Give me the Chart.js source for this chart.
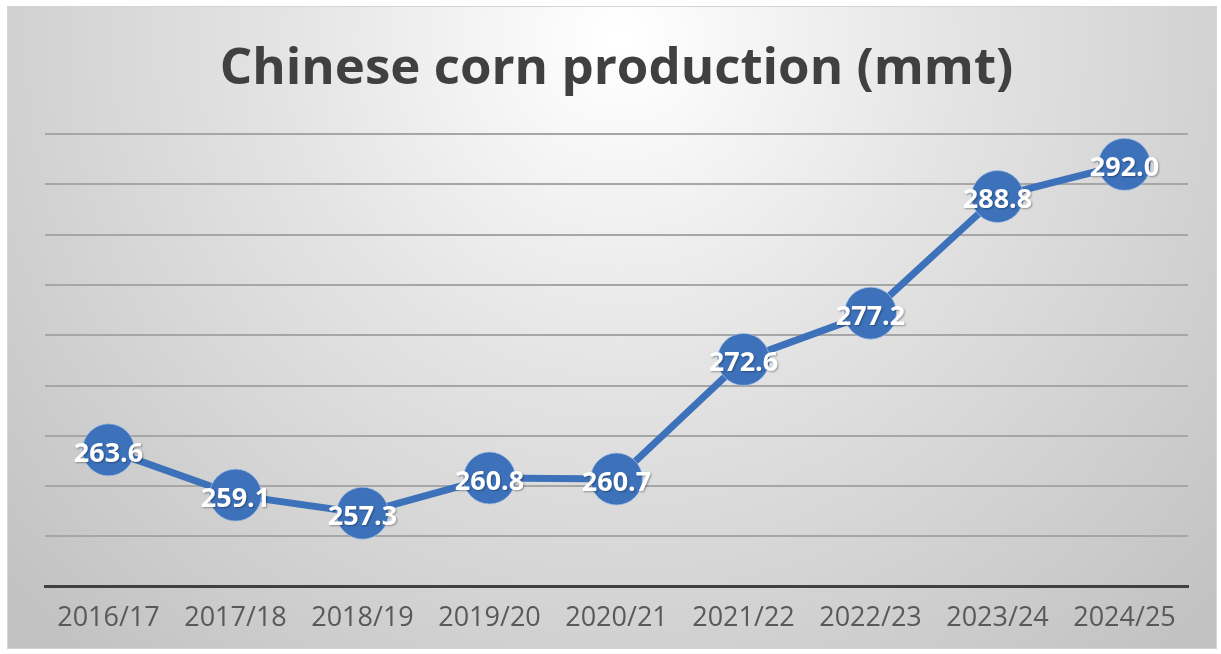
<!DOCTYPE html>
<html>
<head>
<meta charset="utf-8">
<script src="https://cdn.jsdelivr.net/npm/chart.js@4/dist/chart.umd.min.js"></script>
<style>
  html, body { margin: 0; padding: 0; background: #fff; }
  #wrap { width: 1221px; height: 654px; position: relative; }
</style>
</head>
<body>
<div id="wrap"><canvas id="cornChart"></canvas></div>
<script>
var seasons = ["2016/17", "2017/18", "2018/19", "2019/20", "2020/21", "2021/22", "2022/23", "2023/24", "2024/25"];
var production = [263.6, 259.1, 257.3, 260.8, 260.7, 272.6, 277.2, 288.8, 292.0];
var yMin = 250;
var yMax = 295;
var yStep = 5;

var blue = "#3d72bb";

// grey framed panel with a soft light spot behind the title
var panelBackground = {
  id: "panelBackground",
  beforeDraw: function (chart) {
    var ctx = chart.ctx;
    var w = chart.width, h = chart.height;
    ctx.save();
    ctx.fillStyle = "#ffffff";
    ctx.fillRect(0, 0, w, h);
    var g = ctx.createRadialGradient(620, 40, 10, 620, 40, 820);
    g.addColorStop(0, "#ffffff");
    g.addColorStop(0.4, "#e4e4e4");
    g.addColorStop(1, "#c2c2c2");
    ctx.fillStyle = g;
    ctx.fillRect(7, 6, 1210, 643);
    ctx.strokeStyle = "#d4d4d4";
    ctx.lineWidth = 1;
    ctx.strokeRect(7.5, 6.5, 1209, 642);
    ctx.restore();
  }
};

// white value labels sitting on the markers
var valueLabels = {
  id: "valueLabels",
  afterDatasetsDraw: function (chart) {
    var ctx = chart.ctx;
    var meta = chart.getDatasetMeta(0);
    ctx.save();
    ctx.font = "bold 27px 'Open Sans'";
    ctx.textAlign = "center";
    ctx.textBaseline = "middle";
    ctx.fillStyle = "#ffffff";
    ctx.shadowColor = "rgba(0,0,0,0.35)";
    ctx.shadowBlur = 2;
    ctx.shadowOffsetX = 1;
    ctx.shadowOffsetY = 1;
    meta.data.forEach(function (pt, i) {
      ctx.fillText(production[i].toFixed(1), pt.x, pt.y + 4);
    });
    ctx.restore();
  }
};

new Chart(document.getElementById("cornChart"), {
  type: "line",
  data: {
    labels: seasons,
    datasets: [
      {
        data: production,
        borderColor: blue,
        borderWidth: 7,
        pointRadius: 26,
        pointHoverRadius: 26,
        pointBackgroundColor: blue,
        pointBorderColor: "rgba(170,195,230,0.7)",
        pointBorderWidth: 1,
        tension: 0,
        clip: false,
      },
    ],
  },
  options: {
    responsive: true,
    maintainAspectRatio: false,
    animation: false,
    layout: {
      autoPadding: false,
      padding: { left: 45, right: 33, top: 6, bottom: 11 },
    },
    plugins: {
      legend: { display: false },
      tooltip: { enabled: false },
      title: {
        display: true,
        text: "Chinese corn production (mmt)",
        color: "#404040",
        font: { family: "'Open Sans'", size: 51, weight: "bold" },
        padding: { top: 33, bottom: 34 },
      },
    },
    scales: {
      x: {
        offset: true,
        grid: { display: false },
        border: { display: true, color: "#404040", width: 3 },
        ticks: {
          color: "#595959",
          font: { family: "'Open Sans'", size: 27 },
          padding: 8,
          maxRotation: 0,
        },
      },
      y: {
        min: yMin,
        max: yMax,
        ticks: { display: false, stepSize: yStep },
        border: { display: false },
        grid: { color: "#a6a6a6", lineWidth: 2, drawTicks: false },
      },
    },
  },
  plugins: [panelBackground, valueLabels],
});
</script>
</body>
</html>
